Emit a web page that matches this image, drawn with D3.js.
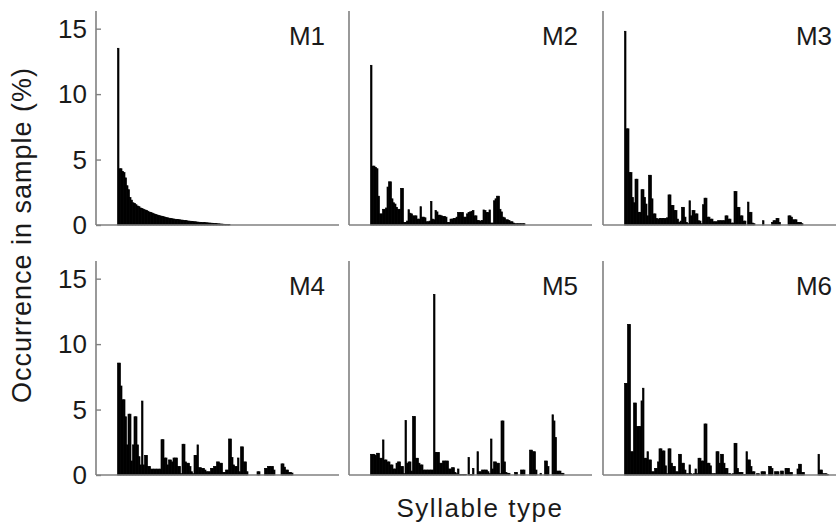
<!DOCTYPE html>
<html>
<head>
<meta charset="utf-8">
<script src="https://cdn.jsdelivr.net/npm/d3@7"></script>
<style>
  body { margin: 0; background: #fff; }
  text { font-family: "Liberation Sans", Arial, sans-serif; fill: #1a1a1a; }
</style>
</head>
<body>
<div id="chart"></div>
<script>
// Occurrence (%) of each syllable type, one array per male, in plotted order
var m1 = [13.5, 4.3, 4.3, 4.1, 4.0, 3.6, 3.0, 2.7, 2.1, 1.9, 1.7, 1.65, 1.55, 1.45, 1.4, 1.3, 1.25, 1.2, 1.15, 1.1,
  1.05, 0.98, 0.95, 0.9, 0.85, 0.8, 0.77, 0.72, 0.7, 0.67, 0.64, 0.61, 0.58, 0.55, 0.52, 0.5, 0.48, 0.46, 0.44, 0.43,
  0.42, 0.4, 0.38, 0.37, 0.35, 0.34, 0.32, 0.3, 0.29, 0.28, 0.26, 0.25, 0.24, 0.22, 0.21, 0.2, 0.19, 0.18, 0.18, 0.17,
  0.16, 0.15, 0.14, 0.13, 0.12, 0.11, 0.1, 0.09, 0.08, 0.07, 0.06, 0.05, 0.05, 0.04, 0.03];

var m2 = [12.2, 4.5, 4.5, 4.4, 4.3, 2.2, 0.85, 0.85, 1.2, 1.2, 1.3, 2.9, 3.3, 3.3, 2.0, 1.7, 1.6, 1.35, 1.2, 1.2,
  2.8, 2.8, 0.2, 0.2, 0.3, 1.17, 0.9, 0.85, 0.7, 0.7, 0.7, 0.45, 0.45, 1.4, 0.6, 0.6, 0.55, 0.25, 0.25, 0.3,
  1.8, 0.45, 0.4, 1.1, 1.0, 0.75, 0.75, 0.7, 0.65, 0.65, 0.6, 0.2, 0.2, 0.45, 0.45, 0.5, 0.5, 0.6, 0.95, 0.95,
  0.95, 0.95, 0.6, 0.6, 0.85, 0.95, 1.0, 1.05, 1.1, 0.7, 0.7, 0.35, 0.33, 0.3, 0.35, 1.15, 1.1, 0.95, 0.95, 1.15,
  0.15, 0.15, 1.85, 2.0, 2.2, 2.2, 1.2, 1.0, 0.6, 0.55, 0.4, 0.4, 0.35, 0.25, 0.25, 0.15, 0.1, 0.1, 0.1, 0.1,
  0.1, 0.1, 0.1];

var m3 = [14.8, 7.35, 7.35, 4.0, 4.0, 2.1, 1.7, 3.5, 3.5, 0.97, 0.97, 2.7, 2.7, 2.1, 1.6, 0.7, 3.8, 3.8, 2.0, 0.85,
  0.85, 0.5, 0.45, 0.5, 0.5, 0.5, 0.5, 0.5, 0.55, 2.3, 2.3, 1.5, 1.5, 1.1, 1.1, 0.45, 0.2, 0.3, 1.35, 1.35,
  0.6, 0.2, 0.1, 1.85, 0.7, 1.1, 1.1, 0.85, 0.85, 0.33, 0.3, 0.1, 1.55, 2.05, 2.05, 0.6, 0.6, 0.45, 0.45, 0.25,
  0.25, 0.25, 0.33, 0.33, 0.33, 0.33, 0.33, 0.7, 0.7, 0.45, 0.45, 0.15, 0.15, 2.55, 2.55, 1.35, 1.35, 0.7, 0.7, 0.3,
  0.3, 0, 1.75, 0.97, 0.97, 0.15, 0.1, 0, 0, 0, 0, 0, 0.33, 0, 0, 0, 0, 0, 0.2, 0.33,
  0.33, 0.5, 0.5, 0.2, 0, 0, 0, 0, 0, 0.7, 0.7, 0.6, 0.4, 0.4, 0.4, 0.2, 0.2, 0.2, 0.1];

var m4 = [8.55, 8.55, 6.8, 5.75, 5.75, 4.45, 2.3, 4.65, 4.65, 1.07, 2.3, 4.45, 4.45, 2.3, 1.4, 0.77, 5.65, 0.77, 1.5, 1.5,
  0.64, 0.64, 0.45, 0.45, 0.45, 0.45, 0.45, 0.45, 0.45, 2.7, 2.7, 1.3, 1.3, 0.77, 1.15, 1.15, 1.0, 1.3, 1.3, 1.3,
  0.64, 0.64, 0.1, 2.35, 2.35, 1.0, 0.9, 0.9, 0.64, 0.25, 0.1, 1.5, 1.5, 2.3, 0.56, 0.56, 0.5, 0.5, 0.38, 0.25,
  0.25, 0.25, 0.5, 0.5, 0.64, 0.64, 1.0, 1.0, 0.9, 0.9, 0.2, 0.2, 0.38, 0.38, 2.75, 2.75, 1.33, 0.77, 0.64, 0.64,
  1.3, 0.25, 2.15, 2.15, 1.0, 1.0, 0.25, 0, 0, 0, 0, 0, 0, 0.25, 0.25, 0, 0, 0, 0.5, 0.5,
  0.64, 0.64, 0.64, 0.64, 0.38, 0, 0, 0, 0, 0.85, 0.85, 0.6, 0.38, 0.38, 0.2, 0.2, 0.15];

var m5 = [1.58, 1.58, 1.58, 1.48, 1.66, 1.66, 1.28, 1.28, 2.68, 1.15, 1.15, 1.0, 1.0, 0.77, 0.77, 0.46, 0.46, 0.9, 1.0, 1.0,
  0.64, 0.64, 0.1, 4.16, 0.9, 1.0, 1.0, 0.3, 4.46, 4.46, 1.28, 1.28, 0.9, 0.77, 0.77, 0.38, 0.38, 0.38, 0.38, 0.38,
  0.38, 0.38, 13.8, 1.73, 1.73, 1.73, 0.9, 0.9, 1.07, 1.07, 1.07, 1.07, 0.46, 0.46, 0.56, 0.56, 0.2, 0.1, 0.46, 0.05,
  0.05, 0.05, 0.05, 0.05, 0, 1.33, 0.05, 0.05, 0.5, 0, 0, 1.78, 0.25, 0.25, 0.38, 0.38, 0.38, 0.38, 0.25, 0.1,
  2.75, 0.46, 1.0, 1.0, 0.9, 0.9, 0.1, 4.13, 4.13, 1.0, 0.2, 0.13, 0.13, 0, 0, 0, 0.2, 0.2, 0, 0,
  0.38, 0.38, 0.38, 0, 0, 0, 1.9, 1.9, 1.78, 1.78, 0.38, 0, 0, 0.13, 0, 0, 1.07, 1.07, 0.64, 0,
  0, 4.6, 4.13, 2.86, 0.3, 0.3, 0.3, 0.13, 0.13];

var m6 = [7.0, 7.0, 11.5, 11.5, 1.78, 1.78, 5.5, 5.5, 3.7, 3.7, 3.7, 5.66, 6.63, 1.28, 1.28, 1.78, 1.15, 1.15, 0.25, 0.25,
  0.5, 0.5, 1.0, 2.0, 2.0, 1.84, 1.84, 0.7, 0.1, 2.0, 2.0, 0.9, 0.64, 0.64, 0.25, 0.25, 1.58, 1.58, 0.9, 0.9,
  0.38, 0.1, 0.1, 0.77, 0.1, 0.05, 0.1, 0.46, 0.1, 1.28, 1.28, 1.07, 1.07, 3.9, 3.9, 0.9, 0.9, 0.7, 0.1, 0.1,
  0.1, 1.78, 1.78, 0.9, 1.58, 1.58, 0.9, 0.5, 0.5, 0.1, 0.1, 0.05, 0.1, 2.42, 2.42, 0.5, 0.2, 0.2, 0.2, 0.05,
  0.05, 1.78, 1.15, 1.15, 0.64, 0.25, 0.25, 0, 0.1, 0.1, 0, 0.25, 0.25, 0.25, 0, 0, 0.64, 0.64, 0.5, 0,
  0.25, 0.25, 0.25, 0, 0.3, 0.3, 0, 0.5, 0.5, 0.5, 0.2, 0.2, 0, 0, 0, 0.46, 0.82, 0.82, 0.2, 0.2,
  0, 0, 0, 0, 0, 0, 0, 0, 0, 1.58, 0.38, 0.38, 0.1, 0.1, 0.1, 0.05];

var panelNames = ['M1', 'M2', 'M3', 'M4', 'M5', 'M6'];
var panelValues = [m1, m2, m3, m4, m5, m6];
var yTicks = [0, 5, 10, 15];
var yLabel = 'Occurrence in sample (%)';
var xLabel = 'Syllable type';

// canvas and panel grid
var outerWidth = 836, outerHeight = 523;
var colX = [96, 349, 603];       // left edge (y axis) of each column
var rowBase = [225, 475];        // baseline of each row
var panelW = 243, panelH = 214;
var axisColor = '#808080';

var svg = d3.select('#chart').append('svg')
    .attr('width', outerWidth)
    .attr('height', outerHeight);

// scales shared by all panels
var x = d3.scaleLinear().domain([0, 140]).range([21.5, 231.5]);
var y = d3.scaleLinear().domain([0, 16.35]).range([panelH, 0]);
var barW = x(1) - x(0);

panelValues.forEach(function(values, p) {
  var col = p % 3, row = Math.floor(p / 3);
  var g = svg.append('g')
      .attr('transform', 'translate(' + colX[col] + ',' + (rowBase[row] - panelH) + ')');

  var data = values.map(function(v, i) { return {i: i, v: v}; })
      .filter(function(d) { return d.v > 0; });

  // bars
  g.selectAll('rect.bar')
    .data(data)
    .enter().append('rect')
      .attr('class', 'bar')
      .attr('x', function(d) { return x(d.i); })
      .attr('width', barW)
      .attr('y', function(d) { return y(d.v); })
      .attr('height', function(d) { return y(0) - y(d.v); })
      .attr('fill', '#000')
      .attr('stroke', '#000')
      .attr('stroke-width', 0.7);

  // x baseline
  g.append('line')
      .attr('x1', 0).attr('x2', panelW)
      .attr('y1', y(0)).attr('y2', y(0))
      .attr('stroke', axisColor)
      .attr('stroke-width', 1.6);

  // y axis: ticks and labels only on the left column
  var yAxis = d3.axisRight(y).tickValues(yTicks).tickSize(col === 0 ? 5 : 0).tickFormat('');
  var ya = g.append('g').call(yAxis);
  ya.select('.domain').attr('d', 'M0,0V' + panelH).attr('stroke', axisColor).attr('stroke-width', 1.6);
  ya.selectAll('.tick line').attr('stroke', axisColor).attr('stroke-width', 1.4);

  if (col === 0) {
    g.selectAll('text.ytick')
      .data(yTicks)
      .enter().append('text')
        .attr('class', 'ytick')
        .attr('x', -9)
        .attr('y', function(d) { return y(d); })
        .attr('dy', '0.36em')
        .attr('text-anchor', 'end')
        .style('font-size', '26px')
        .text(function(d) { return d; });
  }

  // panel name
  g.append('text')
      .attr('x', panelW - 14)
      .attr('y', y(0) - 180)
      .attr('text-anchor', 'end')
      .style('font-size', '26px')
      .text(panelNames[p]);
});

// axis titles
svg.append('text')
    .attr('transform', 'translate(31,235) rotate(-90)')
    .attr('text-anchor', 'middle')
    .style('font-size', '27px')
    .style('letter-spacing', '1px')
    .text(yLabel);

svg.append('text')
    .attr('x', 480)
    .attr('y', 517)
    .attr('text-anchor', 'middle')
    .style('font-size', '26px')
    .style('letter-spacing', '1.5px')
    .text(xLabel);
</script>
</body>
</html>
